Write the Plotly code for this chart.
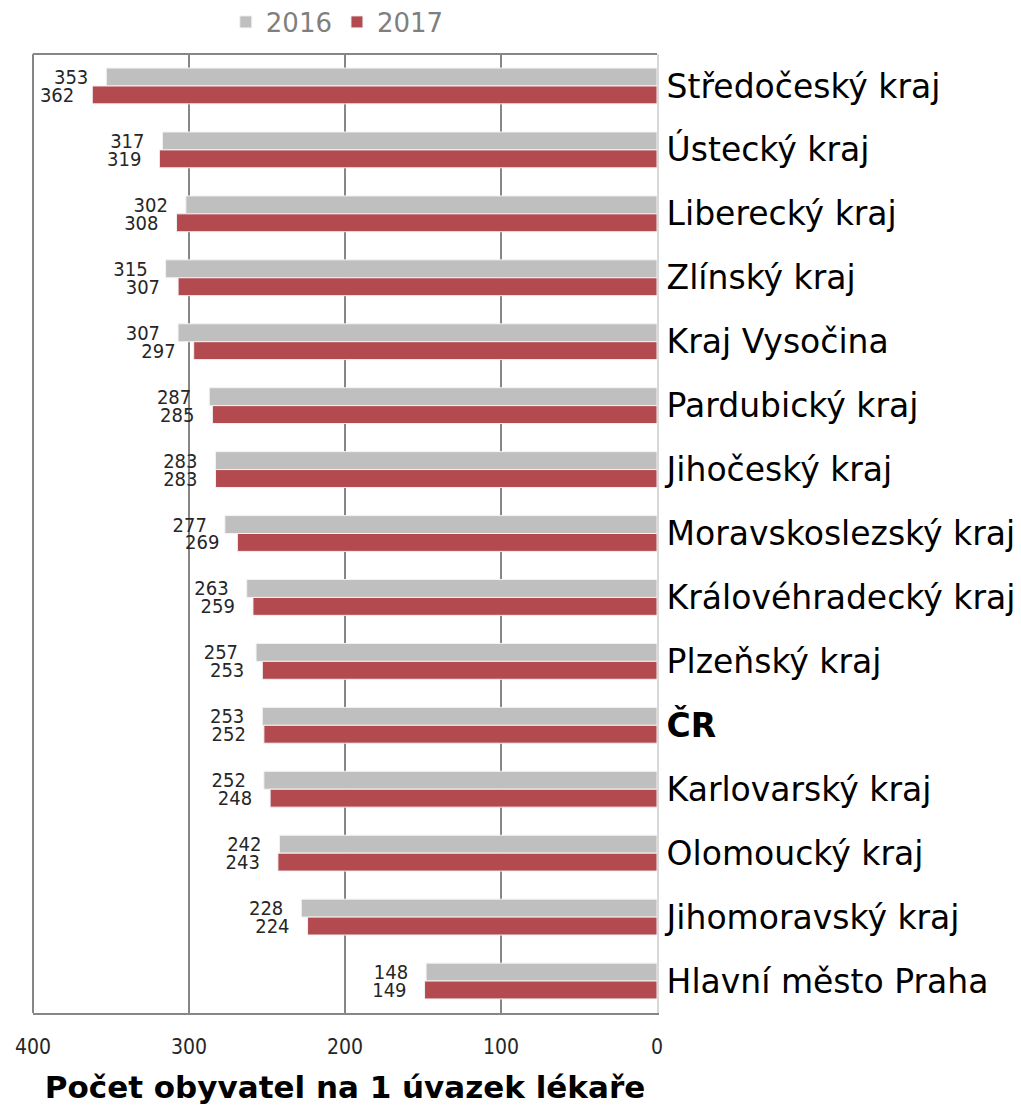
import plotly.graph_objects as go

regions = [
    "Středočeský kraj",
    "Ústecký kraj",
    "Liberecký kraj",
    "Zlínský kraj",
    "Kraj Vysočina",
    "Pardubický kraj",
    "Jihočeský kraj",
    "Moravskoslezský kraj",
    "Královéhradecký kraj",
    "Plzeňský kraj",
    "<b>ČR</b>",
    "Karlovarský kraj",
    "Olomoucký kraj",
    "Jihomoravský kraj",
    "Hlavní město Praha",
]
y2016 = [353, 317, 302, 315, 307, 287, 283, 277, 263, 257, 253, 252, 242, 228, 148]
y2017 = [362, 319, 308, 307, 297, 285, 283, 269, 259, 253, 252, 248, 243, 224, 149]

narrow = "DejaVu Sans Condensed, Liberation Sans Narrow, sans-serif"
label_font = dict(family=narrow, size=20, color="#262626")
pad = "\u00a0\u00a0\u2009"

fig = go.Figure()
fig.add_trace(go.Bar(
    y=regions, x=y2016, name="2016", orientation="h",
    marker=dict(color="#bfbfbf", line=dict(color="#f2f2f2", width=1)),
    text=[f"{v}{pad}" for v in y2016], textposition="outside",
    textfont=label_font, cliponaxis=False, constraintext="none",
))
fig.add_trace(go.Bar(
    y=regions, x=y2017, name="2017", orientation="h",
    marker=dict(color="#b34a50", line=dict(color="#f2f2f2", width=1)),
    text=[f"{v}{pad}" for v in y2017], textposition="outside",
    textfont=label_font, cliponaxis=False, constraintext="none",
))

# the page body adds an 8 px offset, so the figure is sized to compensate
fig.update_layout(
    width=1013, height=1100,
    margin=dict(l=25, r=364, t=46, b=95, autoexpand=False),
    plot_bgcolor="white", paper_bgcolor="white",
    barmode="group", bargap=0.44, bargroupgap=0,
    font=dict(family="DejaVu Sans, sans-serif", color="#000000"),
    showlegend=True,
    legend=dict(orientation="h", xref="container", yref="container",
                x=0.215, xanchor="left", y=1 - 14 / 1100, yanchor="middle",
                font=dict(size=26, color="#7f7f7f"),
                traceorder="normal", itemwidth=30),
)
fig.update_xaxes(
    range=[400, 0], dtick=100, showgrid=True, gridcolor="#868686", gridwidth=1.5,
    zeroline=False, showline=True, linecolor="#868686", linewidth=2, mirror=False,
    ticks="outside", ticklen=14, tickcolor="rgba(0,0,0,0)", automargin=False,
    tickfont=dict(family=narrow, size=21, color="#262626"),
    title=dict(text="<b>Počet obyvatel na 1 úvazek lékaře</b>",
               font=dict(size=31, color="#000000"), standoff=18),
)
fig.update_yaxes(
    autorange="reversed", side="right", showgrid=False, automargin=False,
    showline=True, linecolor="#d9d9d9", linewidth=2,
    ticks="outside", ticklen=1, tickcolor="rgba(0,0,0,0)",
    tickfont=dict(size=33, color="#000000"),
)
# frame on the left and top of the plot area
fig.add_shape(type="line", xref="paper", yref="paper", x0=0, x1=0, y0=0, y1=1,
              line=dict(color="#868686", width=2))
fig.add_shape(type="line", xref="paper", yref="paper", x0=0, x1=1, y0=1, y1=1,
              line=dict(color="#868686", width=2))

fig.write_html("out.html")
